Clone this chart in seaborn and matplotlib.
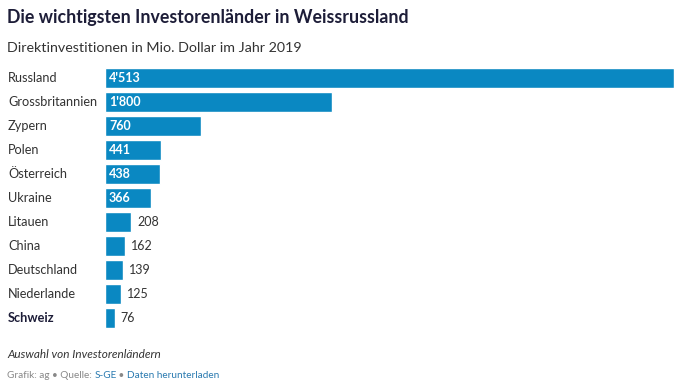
import matplotlib
matplotlib.use("Agg")
import matplotlib.pyplot as plt
import seaborn as sns
import pandas as pd

countries = ["Russland", "Grossbritannien", "Zypern", "Polen", "Österreich", "Ukraine",
             "Litauen", "China", "Deutschland", "Niederlande", "Schweiz"]
values = [4513, 1800, 760, 441, 438, 366, 208, 162, 139, 125, 76]
labels = ["4'513", "1'800", "760", "441", "438", "366", "208", "162", "139", "125", "76"]

sns.set_theme(style="white")
plt.rcParams["font.family"] = ["Lato", "DejaVu Sans"]

BLUE = "#0a88c2"
DARK = "#1d1d38"
TEXT = "#333333"

df = pd.DataFrame({"land": countries, "wert": values})

fig = plt.figure(figsize=(6.96, 3.88), dpi=100)
ax = fig.add_axes([105 / 696, 1 - 330 / 388, 569 / 696, 264 / 388])
sns.barplot(data=df, x="wert", y="land", color=BLUE, saturation=1, width=0.84, ax=ax)
ax.set_xlim(0, max(values))
ax.set_ylim(len(values) - 0.5, -0.5)
ax.set_xlabel("")
ax.set_ylabel("")
ax.set_xticks([])
ax.set_yticks([])
sns.despine(ax=ax, left=True, bottom=True)

px = max(values) / 569  # data units per pixel
for i, (name, v, lab) in enumerate(zip(countries, values, labels)):
    ax.text(-97 * px, i, name, ha="left", va="center", fontsize=9.2,
            color=DARK if name == "Schweiz" else TEXT,
            fontweight="bold" if name == "Schweiz" else "normal")
    if v >= 300:
        ax.text(4 * px, i, lab, ha="left", va="center", fontsize=9,
                color="white", fontweight="bold")
    else:
        ax.text(v + 6 * px, i, lab, ha="left", va="center", fontsize=9, color=TEXT)

fig.text(7 / 696, 1 - 17 / 388, "Die wichtigsten Investorenländer in Weissrussland",
         fontsize=12.8, fontweight="bold", color=DARK, va="center", ha="left")
fig.text(7 / 696, 1 - 48 / 388, "Direktinvestitionen in Mio. Dollar im Jahr 2019",
         fontsize=10.3, color=TEXT, va="center", ha="left")
fig.text(7 / 696, 1 - 355 / 388, "Auswahl von Investorenländern",
         fontsize=8.5, style="italic", color=TEXT, va="center", ha="left")

y_src = 1 - 376 / 388
t1 = fig.text(7 / 696, y_src, "Grafik: ag • Quelle: ", fontsize=7.2, color="#888888",
              va="center", ha="left")
fig.canvas.draw()
r = fig.canvas.get_renderer()
bb = t1.get_window_extent(r)
t2 = fig.text(bb.x1 / fig.bbox.width, y_src, "S-GE", fontsize=7.2, color="#2a7ab0",
              va="center", ha="left")
bb2 = t2.get_window_extent(r)
t3 = fig.text(bb2.x1 / fig.bbox.width, y_src, " • ", fontsize=7.2, color="#888888",
              va="center", ha="left")
bb3 = t3.get_window_extent(r)
fig.text(bb3.x1 / fig.bbox.width, y_src, "Daten herunterladen", fontsize=7.2,
         color="#2a7ab0", va="center", ha="left")

fig.savefig("out.png", dpi=100)
